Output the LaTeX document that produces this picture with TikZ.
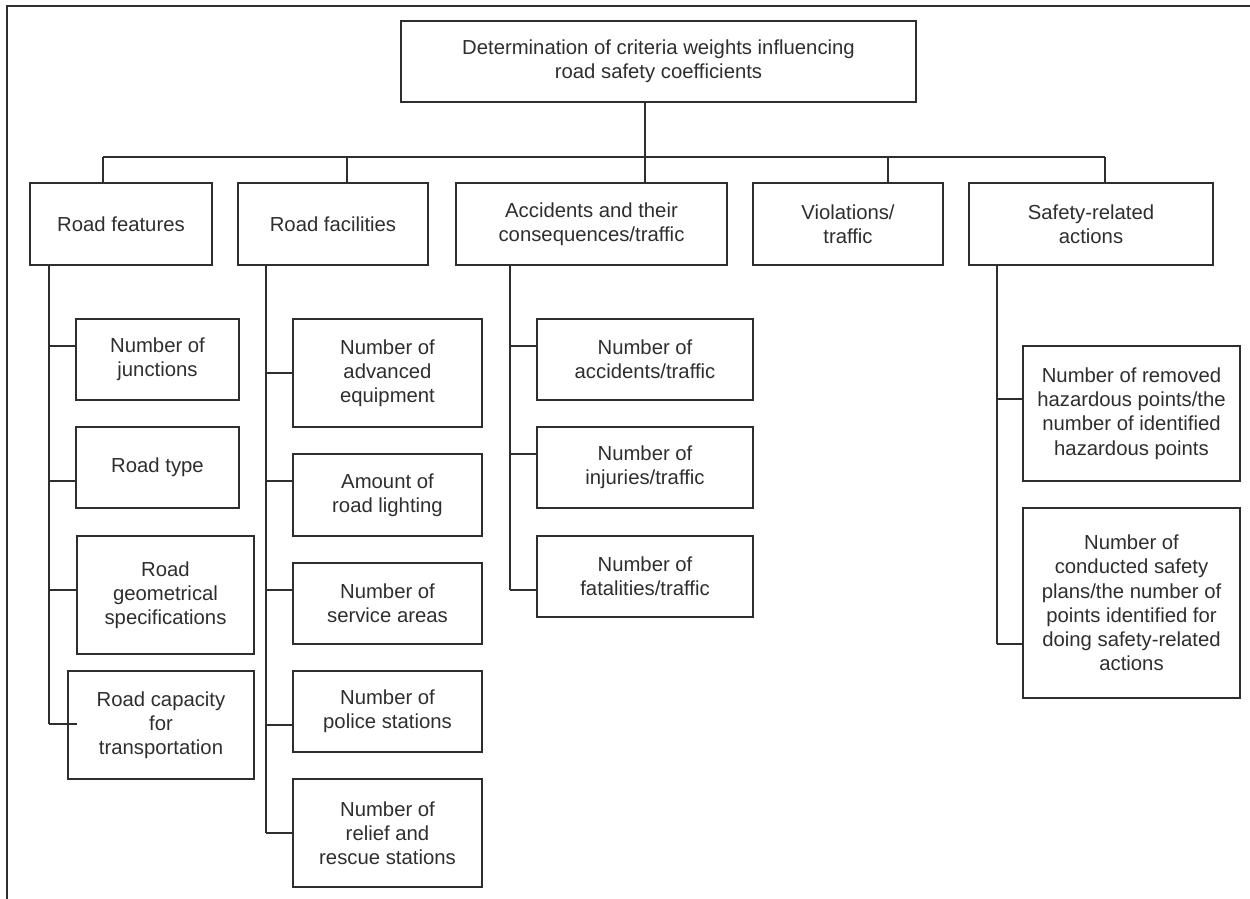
\documentclass[tikz,border=0pt]{standalone}
\usepackage{fontspec}
\setmainfont{Liberation Sans}
\definecolor{ink}{HTML}{2E2E2E}
\tikzset{
  box/.style={draw=ink, line width=1.5pt, rectangle, inner sep=0pt, align=center,
    text=ink, font=\fontsize{20.3}{24.2}\selectfont},
  wire/.style={draw=ink, line width=1.5pt}
}
\begin{document}
\begin{tikzpicture}[x=1pt,y=-1pt]
\useasboundingbox (0,0) rectangle (1250,899);
% outer frame (top and left)
\draw[wire] (7,899) -- (7,6) -- (1250,6);
% root
\node[box, minimum width=515, minimum height=81] (root) at (658.5,61.5)
  {Determination of criteria weights influencing\\road safety coefficients};
% level 1
\node[box, minimum width=182, minimum height=82] (l1) at (121,224) {Road features};
\node[box, minimum width=190, minimum height=82] (l2) at (333,224) {Road facilities};
\node[box, minimum width=271, minimum height=82] (l3) at (591.5,224) {Accidents and their\\consequences/traffic};
\node[box, minimum width=190, minimum height=82] (l4) at (848,224) {Violations/\\traffic};
\node[box, minimum width=244, minimum height=82] (l5) at (1091,224) {Safety-related\\actions};
% children of road features
\node[box, minimum width=163, minimum height=81] (c11) at (157.5,359.5) {Number of\\junctions};
\node[box, minimum width=163, minimum height=81] (c12) at (157.5,467.5) {Road type};
\node[box, minimum width=177, minimum height=118] (c13) at (165.5,595) {Road\\geometrical\\specifications};
\node[box, minimum width=186, minimum height=108] (c14) at (161,725) {Road capacity\\for\\transportation};
% children of road facilities
\node[box, minimum width=189, minimum height=108] (c21) at (387.5,373) {Number of\\advanced\\equipment};
\node[box, minimum width=189, minimum height=82] (c22) at (387.5,495) {Amount of\\road lighting};
\node[box, minimum width=189, minimum height=81] (c23) at (387.5,603.5) {Number of\\service areas};
\node[box, minimum width=189, minimum height=81] (c24) at (387.5,711.5) {Number of\\police stations};
\node[box, minimum width=189, minimum height=108] (c25) at (387.5,833) {Number of\\relief and\\rescue stations};
% children of accidents
\node[box, minimum width=216, minimum height=81] (c31) at (645,359.5) {Number of\\accidents/traffic};
\node[box, minimum width=216, minimum height=81] (c32) at (645,467.5) {Number of\\injuries/traffic};
\node[box, minimum width=216, minimum height=81] (c33) at (645,576.5) {Number of\\fatalities/traffic};
% children of safety-related actions
\node[box, minimum width=217, minimum height=135] (c51) at (1131.5,413.5) {Number of removed\\hazardous points/the\\number of identified\\hazardous points};
\node[box, minimum width=217, minimum height=190] (c52) at (1131.5,603) {Number of\\conducted safety\\plans/the number of\\points identified for\\doing safety-related\\actions};
% bus
\coordinate (b0) at (645,157);
\coordinate (b1) at (103,157);
\coordinate (b2) at (347,157);
\coordinate (b3) at (645,157);
\coordinate (b4) at (888,157);
\coordinate (b5) at (1105,157);
\draw[wire] (root.south -| b0) -- (b0);
\draw[wire] (b1) -- (b5);
\draw[wire] (b1) -- (b1 |- l1.north);
\draw[wire] (b2) -- (b2 |- l2.north);
\draw[wire] (b3) -- (b3 |- l3.north);
\draw[wire] (b4) -- (b4 |- l4.north);
\draw[wire] (b5) -- (b5 |- l5.north);
% spine 1
\coordinate (j11) at (49,346);
\coordinate (j12) at (49,481);
\coordinate (j13) at (49,590);
\coordinate (j14) at (49,724);
\coordinate (k14) at (77,724);
\draw[wire] (j14 |- l1.south) -- (j14);
\draw[wire] (j11) -- (j11 -| c11.west);
\draw[wire] (j12) -- (j12 -| c12.west);
\draw[wire] (j13) -- (j13 -| c13.west);
\draw[wire] (j14) -- (k14);
% spine 2
\coordinate (j21) at (266,373);
\coordinate (j22) at (266,481);
\coordinate (j23) at (266,590);
\coordinate (j24) at (266,725);
\coordinate (j25) at (266,833);
\draw[wire] (j25 |- l2.south) -- (j25);
\draw[wire] (j21) -- (j21 -| c21.west);
\draw[wire] (j22) -- (j22 -| c22.west);
\draw[wire] (j23) -- (j23 -| c23.west);
\draw[wire] (j24) -- (j24 -| c24.west);
\draw[wire] (j25) -- (j25 -| c25.west);
% spine 3
\coordinate (j31) at (510,346);
\coordinate (j32) at (510,454);
\coordinate (j33) at (510,590);
\draw[wire] (j33 |- l3.south) -- (j33);
\draw[wire] (j31) -- (j31 -| c31.west);
\draw[wire] (j32) -- (j32 -| c32.west);
\draw[wire] (j33) -- (j33 -| c33.west);
% spine 5
\coordinate (j51) at (997,399);
\coordinate (j52) at (997,644);
\draw[wire] (j52 |- l5.south) -- (j52);
\draw[wire] (j51) -- (j51 -| c51.west);
\draw[wire] (j52) -- (j52 -| c52.west);
\end{tikzpicture}
\end{document}
